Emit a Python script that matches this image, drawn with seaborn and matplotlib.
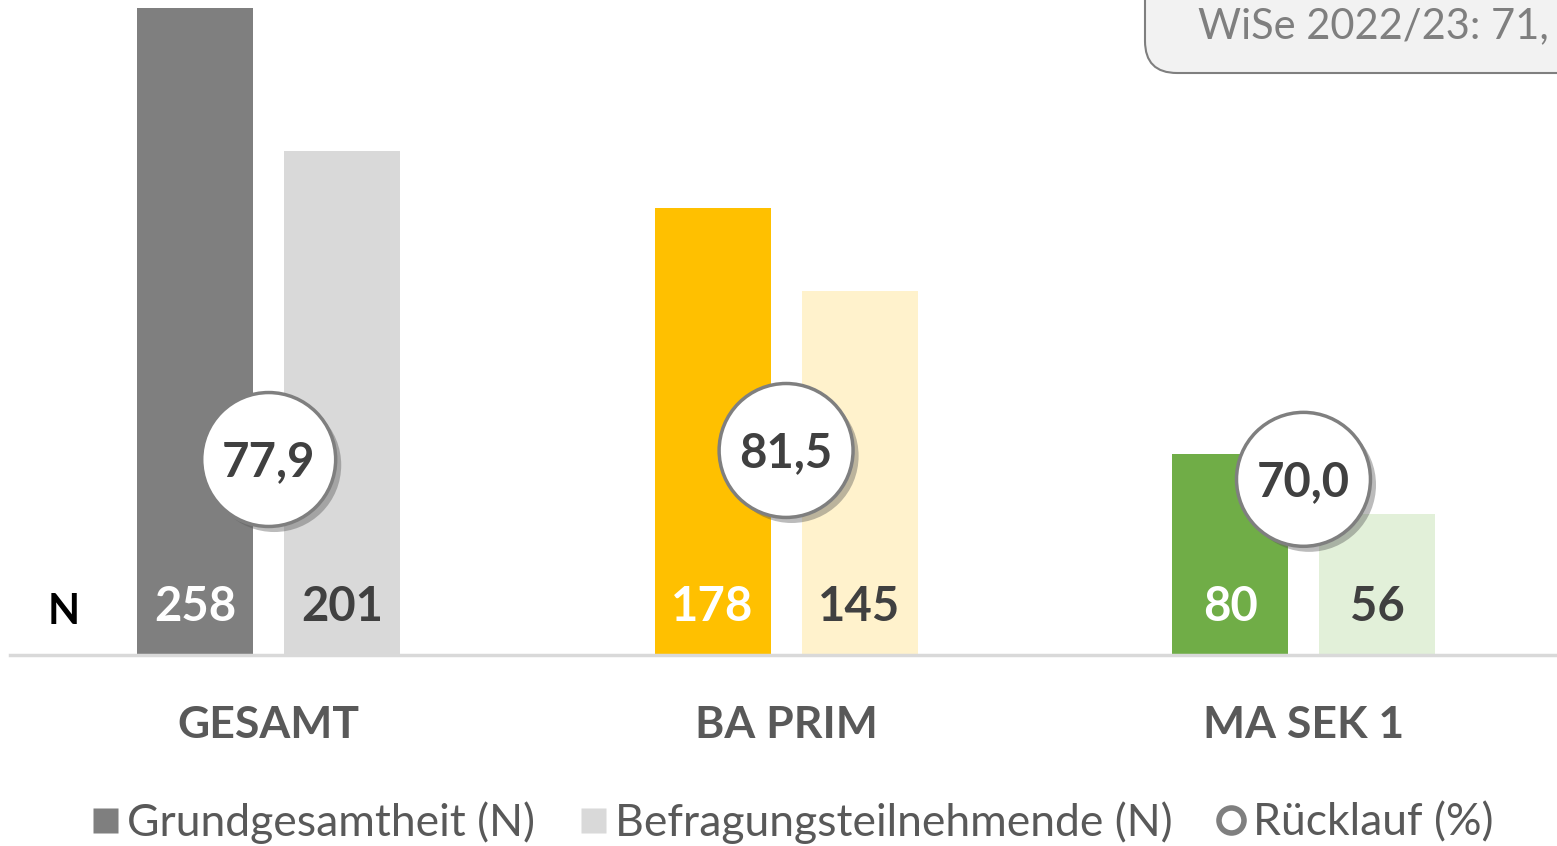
import pandas as pd
import seaborn as sns
import matplotlib.pyplot as plt
import matplotlib.patheffects as pe
from matplotlib.lines import Line2D
from matplotlib.patches import FancyBboxPatch
from matplotlib.transforms import IdentityTransform

categories = ["GESAMT", "BA PRIM", "MA SEK 1"]
grundgesamtheit = [258, 178, 80]
befragte = [201, 145, 56]
ruecklauf = [77.9, 81.5, 70.0]
series_names = ["Grundgesamtheit (N)", "Befragungsteilnehmende (N)"]

dark_colors = ["#7F7F7F", "#FFC000", "#70AD47"]
light_colors = ["#D9D9D9", "#FFF2CC", "#E2F0D9"]


def main():
    sns.set_style("white")
    plt.rcParams["font.family"] = ["Lato", "DejaVu Sans"]

    df = pd.DataFrame({
        "Kategorie": categories * 2,
        "Reihe": [series_names[0]] * 3 + [series_names[1]] * 3,
        "N": grundgesamtheit + befragte,
    })

    fig = plt.figure(figsize=(15.57, 8.46), dpi=100)
    ax = fig.add_axes([10 / 1557, 191 / 846, 1 - 10 / 1557, 1 - 191 / 846])

    sns.barplot(data=df, x="Kategorie", y="N", hue="Reihe", hue_order=series_names,
                width=0.568, gap=0.211, ax=ax, legend=False, errorbar=None,
                saturation=1)

    # recolor bars per category, put N values at the bottom
    for cont, cols, tcol in [(ax.containers[0], dark_colors, "white"),
                             (ax.containers[1], light_colors, "#404040")]:
        for bar, c in zip(cont, cols):
            bar.set_facecolor(c)
            bar.set_edgecolor("none")
            ax.text(bar.get_x() + bar.get_width() / 2, 19, f"{int(bar.get_height())}",
                    ha="center", va="center", fontsize=34, fontweight="bold", color=tcol)
    ax.text(-0.397, 17, "N", ha="center", va="center", fontsize=30,
            fontweight="bold", color="black")

    # response rate circles
    circ = pd.DataFrame({"Kategorie": categories, "Quote": ruecklauf})
    sns.scatterplot(data=circ, x="Kategorie", y="Quote", ax=ax, s=9300, marker="o",
                    color="white", edgecolor="#7F7F7F", linewidth=2.5, zorder=5,
                    legend=False)
    ax.collections[-1].set_path_effects([
        pe.SimplePatchShadow(offset=(4, -4), shadow_rgbFace="#555555", alpha=0.4),
        pe.Normal()])
    for i, v in enumerate(ruecklauf):
        ax.text(i, v - 1, f"{v:.1f}".replace(".", ","), ha="center", va="center",
                fontsize=34, fontweight="bold", color="#404040", zorder=6)

    ax.set_xlim(-0.5, 2.49)
    ax.set_ylim(0, 261)
    ax.set_xlabel("")
    ax.set_ylabel("")
    ax.set_yticks([])
    ax.tick_params(axis="x", length=0, pad=36, labelsize=32, labelcolor="#595959")
    for lab in ax.get_xticklabels():
        lab.set_fontweight("bold")
    sns.despine(ax=ax, left=True)
    ax.spines["bottom"].set_color("#D9D9D9")
    ax.spines["bottom"].set_linewidth(2.5)

    handles = [
        Line2D([], [], marker="s", linestyle="none", markersize=18,
               markerfacecolor="#7F7F7F", markeredgecolor="none"),
        Line2D([], [], marker="s", linestyle="none", markersize=18,
               markerfacecolor="#D9D9D9", markeredgecolor="none"),
        Line2D([], [], marker="o", linestyle="none", markersize=18,
               markerfacecolor="white", markeredgecolor="#7F7F7F", markeredgewidth=4),
    ]
    fig.legend(handles, series_names + ["Rücklauf (%)"], loc="center",
               bbox_to_anchor=(0.509, 0.028), ncol=3, frameon=False, fontsize=32,
               labelcolor="#595959", handlelength=0.6, handletextpad=0.2,
               columnspacing=1.0)

    # info box in the top right corner (cut off in the original)
    box = FancyBboxPatch((1145, 773), 520, 200, boxstyle="round,pad=0,rounding_size=32",
                         transform=IdentityTransform(), facecolor="#F2F2F2",
                         edgecolor="#7F7F7F", linewidth=1.5)
    fig.patches.append(box)
    fig.text(1198 / 1557, 1 - 38 / 846, "WiSe 2022/23: 71,", ha="left",
             va="baseline", fontsize=30, color="#7F7F7F")

    fig.savefig("out.png", dpi=100)


if __name__ == "__main__":
    main()
